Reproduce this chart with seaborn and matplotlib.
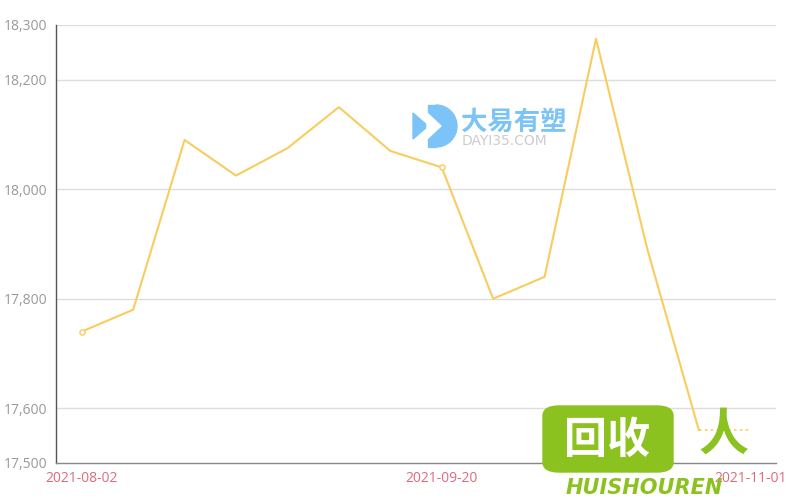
import matplotlib
matplotlib.use("Agg")
import matplotlib.pyplot as plt
import seaborn as sns
import pandas as pd
from matplotlib.patches import FancyBboxPatch, Polygon, Wedge, Rectangle

dates = ["2021-08-02", "2021-08-09", "2021-08-16", "2021-08-23", "2021-08-30",
         "2021-09-06", "2021-09-13", "2021-09-20", "2021-09-27", "2021-10-11",
         "2021-10-18", "2021-10-25", "2021-10-29", "2021-11-01"]
prices = [17740, 17780, 18090, 18025, 18075, 18150, 18070, 18040,
          17800, 17840, 18275, 17890, 17560, 17560]
shown_labels = {0: "2021-08-02", 7: "2021-09-20", 13: "2021-11-01"}
y_ticks = [17500, 17600, 17800, 18000, 18200, 18300]

sns.set_theme(style="white")
plt.rcParams['font.family'] = ['Noto Sans CJK SC', 'DejaVu Sans']

df = pd.DataFrame({"idx": list(range(len(dates))), "price": prices, "date": dates})
solid = df.iloc[:-1]
dotted = df.iloc[-2:]

W, H = 800, 500
fig = plt.figure(figsize=(8, 5), dpi=100)
ax = fig.add_axes([56/W, 37/H, 720/W, 438/H])

line_color = "#f8cd5f"
sns.lineplot(data=solid, x="idx", y="price", ax=ax, color=line_color, linewidth=1.5)
sns.lineplot(data=dotted, x="idx", y="price", ax=ax, color=line_color, linewidth=1.2,
             linestyle=(0, (1.5, 2)))
mk = df.iloc[[0, 7]]
ax.scatter(mk["idx"], mk["price"], s=14, facecolor="white", edgecolor=line_color,
           linewidth=1, zorder=5)

ax.set_xlim(-0.5, len(dates) - 0.5)
ax.set_ylim(17500, 18300)
ax.set_yticks(y_ticks)
ax.set_yticklabels([f"{v:,}" for v in y_ticks], color="#999999", fontsize=10,
                   family=['Open Sans', 'DejaVu Sans'])
ax.set_xticks(list(shown_labels.keys()))
ax.set_xticklabels(list(shown_labels.values()), color="#e06a7c", fontsize=10,
                   family=['Open Sans', 'DejaVu Sans'])
ax.tick_params(axis="y", length=4, width=1, color="#666666", pad=2)
ax.tick_params(axis="x", length=4, width=1, color="#e06a7c", pad=2, direction="out")
ax.set_xlabel("")
ax.set_ylabel("")
for yv in y_ticks[1:]:
    ax.axhline(yv, color="#dddddd", linewidth=1, zorder=0)
for s in ["top", "right"]:
    ax.spines[s].set_visible(False)
ax.spines["left"].set_color("#555555")
ax.spines["bottom"].set_color("#888888")
ax.spines["left"].set_linewidth(1)
ax.spines["bottom"].set_linewidth(1)


def px(x, y):
    return (x, H - y)


# Watermark: 大易有塑
blue = "#7cc4f8"
fig.patches.append(Polygon([px(413, 113), px(428, 126), px(413, 139)], closed=True,
                           transform=None, color=blue))
fig.patches.append(Rectangle(px(428, 147), 8, 42, transform=None, color=blue))
fig.patches.append(Wedge(px(436, 126), 21, -90, 90, transform=None, color=blue))
fig.patches.append(Polygon([px(427, 113), px(441, 126), px(427, 139)], closed=True,
                           transform=None, color="white"))
fig.text(461/W, 1 - 122/H, "大易有塑", color=blue, fontsize=19, fontweight="bold",
         va="center", ha="left")
fig.text(462/W, 1 - 141/H, "DAYI35.COM", color="#cccccc", fontsize=10,
         va="center", ha="left", family=['DejaVu Sans'])

# Watermark: 回收 HUISHOUREN
box = FancyBboxPatch((543/W, 1-472/H), 130/W, 66/H,
                     boxstyle="round,pad=0,rounding_size=0.02",
                     transform=fig.transFigure, color="#8cc21f", zorder=10)
fig.patches.append(box)
fig.text(607/W, 1-440/H, "回收", color="white", fontsize=31, fontweight="heavy",
         ha="center", va="center", zorder=11)
fig.text(644/W, 1-488/H, "HUISHOUREN", color="#8cc21f", fontsize=15,
         fontweight="bold", style="italic", ha="center", va="center", zorder=11,
         family=['DejaVu Sans'])
fig.text(724/W, 1-435/H, "人", color="#8cc21f", fontsize=36, fontweight="bold",
         ha="center", va="center", zorder=11)

fig.savefig("out.png", dpi=100, facecolor="white")
